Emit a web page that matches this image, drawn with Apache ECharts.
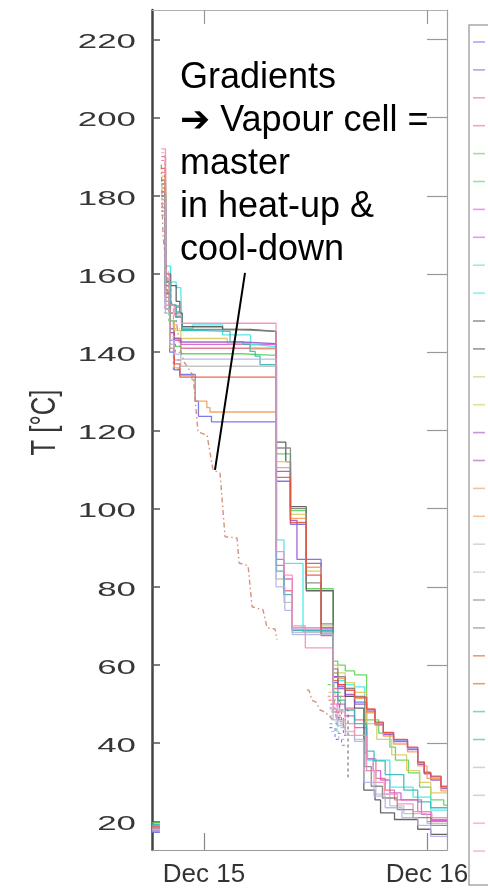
<!DOCTYPE html>
<html>
<head>
<meta charset="utf-8">
<script src="https://cdn.jsdelivr.net/npm/echarts@6.0.0/dist/echarts.min.js"></script>
<style>
html,body{margin:0;padding:0;background:#fff;}
#chart{width:488px;height:888px;}
</style>
</head>
<body>
<div id="chart"></div>
<script>
// x values: hours since Dec 15 00:00
const xTickHours = [0, 24];
const xTickLabels = ['Dec 15', 'Dec 16'];
const xMin = -5.6, xMax = 26.15;
const yTickValues = [20, 40, 60, 80, 100, 120, 140, 160, 180, 200, 220];
const yTickLabels = ['20', '40', '60', '80', '100', '120', '140', '160', '180', '200', '220'];
const yMin = 12.7, yMax = 227.5;
const yAxisName = 'T [°C]';

const seriesNames = [
  'T01', 'T01b', 'T02', 'T02b', 'T03', 'T03b', 'T04', 'T04b', 'T05', 'T05b',
  'T06', 'T06b', 'T07', 'T07b', 'T08', 'T08b', 'T09', 'Vapour cell', 'T10', 'T10b',
  'T11', 'T11b', 'T12', 'T12b', 'T13', 'T13b', 'T14', 'T14b', 'T15', 'T15b'
];
const pairColors = ['#6a6ae6', '#e66a86', '#58d058', '#d458d4', '#3fe6e6', '#505050', '#d6c85a', '#9a52c8',
  '#f09a55', '#bdbdbd', '#808080', '#e8503c', '#33b3b3', '#b0b0e6', '#f08cb4'];
const vapourColor = '#cc7f66';

// solid traces [hour, °C]
const s01 = [[-5.6,17.2],[-4.75,17.2],[-4.7,null],[-4.6,178],[-4.15,151],[-3.7,140],[-3.2,135.5],[-2.6,134.3],[-0.95,127.5],[-0.6,123.6],[0.8,122.2],[7.75,107],[9.3,96],[11.0,87],[12.6,68.5],[13.9,55.5],[14.4,54],[15.2,52],[16.2,50.5],[17.5,48.6],[18.4,45.2],[19.3,42.6],[20.4,40.8],[21.9,38.8],[23.0,35.0],[23.7,32.4],[24.4,31.4],[25.5,28.8],[26.15,28.8]];
const s02 = [[-5.6,18.5],[-4.75,18.5],[-4.7,null],[-4.6,190],[-4.15,158],[-3.7,148],[-3.2,143.5],[-2.5,141],[7.75,85.5],[8.6,79],[9.5,69],[13.9,54],[14.4,52],[15.2,49],[16.2,46],[17.5,36],[18.5,31],[19.5,28],[20.5,25.5],[23.0,22.5],[24.4,20.5],[26.15,20.5]];
const s03 = [[-5.6,19.6],[-4.75,19.6],[-4.7,null],[-4.6,183],[-4.15,155],[-3.7,146],[-3.2,141.5],[-2.5,139.6],[4.0,139.2],[7.75,114],[9.3,99.5],[11.0,79.5],[13.9,61],[14.4,60],[15.2,58.5],[16.2,57.5],[17.5,46],[18.8,42.6],[20.0,39],[20.6,35.7],[22.0,32.4],[23.2,28.8],[24.4,25.5],[25.8,24.2],[26.15,24.2]];
const s04 = [[-5.6,17.5],[-4.75,17.5],[-4.7,null],[-4.6,180],[-4.15,154],[-3.7,146],[-3.2,143],[-2.5,142],[7.75,87],[8.6,82],[9.5,69.5],[13.9,52],[14.4,50],[15.2,47],[16.2,44],[17.5,36],[18.2,33],[19.0,30.6],[20.0,27.3],[21.2,25.5],[23.4,21.8],[24.5,20.3],[26.15,20.3]];
const s05 = [[-5.6,18.8],[-4.75,18.8],[-4.7,null],[-4.6,176],[-4.15,162],[-3.6,158],[-3.0,156.5],[-2.5,155.5],[-2.35,146],[-1.2,147],[2.0,144.4],[5.0,141.9],[5.7,141.4],[7.8,92],[8.6,86],[10.65,68.5],[13.9,58],[14.4,56],[15.2,55],[16.2,54.4],[17.3,37.5],[17.6,35.7],[20.0,28.8],[22.5,26.2],[24.4,22.9],[26.15,22.9]];
const s06 = [[-5.6,18.2],[-4.75,18.2],[-4.7,null],[-4.6,181],[-4.15,160],[-3.6,157],[-3.0,153],[-2.6,150],[-2.35,146.5],[2.0,145.8],[5.0,145.3],[7.75,117],[8.8,112],[9.3,100.5],[11.0,79],[13.9,57],[14.4,55],[15.2,52],[16.2,49],[17.2,28],[18.4,25.5],[19.0,22.2],[20.5,20.5],[23.0,18],[24.4,16.7],[26.15,16.7]];
const s07 = [[-5.6,19.0],[-4.75,19.0],[-4.7,null],[-4.6,185],[-4.15,156],[-3.7,148],[-3.2,145.5],[-2.5,143.5],[2.5,142.2],[5.0,140.8],[7.75,112],[9.3,98.5],[11.0,84],[12.6,70],[13.9,60],[14.4,58],[15.2,55.5],[16.2,53],[17.5,45],[18.6,41],[20.2,37],[21.8,33],[23.2,30],[24.4,27.3],[26.15,27.3]];
const s08 = [[-5.6,17.8],[-4.75,17.8],[-4.7,null],[-4.6,177],[-4.15,153],[-3.7,145],[-3.2,143.5],[-2.5,142.6],[4.0,142.2],[7.75,109.5],[9.3,97],[10.0,87],[11.0,86],[12.6,69.5],[13.9,57],[14.4,54.5],[15.2,52.5],[16.2,50],[17.5,48.2],[18.4,44.8],[19.3,42.2],[20.4,40.4],[21.9,38.4],[23.0,34.6],[23.7,32.2],[24.4,30.6],[25.5,28.4],[26.15,28.4]];
const s09 = [[-5.6,18.5],[-4.75,18.5],[-4.7,null],[-4.6,182],[-4.15,152],[-3.7,141],[-3.2,136],[-2.6,134],[-1.3,133],[-0.95,127.5],[0.3,125.8],[0.65,124.7],[7.75,110.5],[9.3,97.5],[11.0,85],[12.6,68],[13.9,58],[14.4,56.5],[15.2,54],[16.2,51.5],[17.5,47.8],[18.4,44.6],[19.3,41.8],[20.4,39.8],[21.9,37.8],[23.0,34.2],[24.0,31],[25.5,27.8],[26.15,27.8]];
const s10 = [[-5.6,18.0],[-4.75,18.0],[-4.7,null],[-4.6,179],[-4.15,150],[-3.7,142],[-3.2,138],[-2.5,136.4],[7.75,82],[8.6,76],[9.5,68.3],[13.9,48],[14.4,46],[15.2,43],[16.2,41],[17.2,33],[18.5,27],[20.0,24],[21.5,22],[24.0,19.5],[26.15,19.5]];
const s11 = [[-5.6,18.4],[-4.75,18.4],[-4.7,null],[-4.6,184],[-4.15,157],[-3.6,152],[-3.0,149],[-2.4,145.8],[3.5,145.3],[7.75,115.5],[9.3,100],[11.0,81],[12.6,70.5],[13.9,59],[14.4,57],[15.2,54],[16.2,52],[17.3,34],[18.0,29],[19.2,26],[20.8,23],[22.5,21],[24.4,19],[26.15,19]];
const s12 = [[-5.6,18.8],[-4.75,18.8],[-4.7,null],[-4.6,187],[-4.15,155],[-3.7,143],[-3.2,137],[-2.6,133.6],[7.75,108],[9.3,96.5],[11.0,83],[12.6,67.5],[13.9,56],[14.4,55],[15.2,53.5],[16.2,51.8],[17.5,48.8],[18.4,45.4],[19.3,42.8],[20.4,41],[21.9,39],[23.0,35.2],[23.7,32.6],[24.4,31.6],[25.5,29],[26.15,29]];
const s13 = [[-5.6,19.2],[-4.75,19.2],[-4.7,null],[-4.6,180],[-4.15,158],[-3.6,152],[-3.0,149],[-2.4,145.5],[0,145.3],[2.8,142.7],[4.2,142.0],[4.95,140.2],[5.5,139],[6.03,136.8],[7.8,84],[8.6,78],[9.5,68.8],[13.9,53],[14.4,51],[15.2,48.5],[16.2,45],[17.5,38],[18.3,35.5],[19.5,32],[21.5,28],[23.0,25],[24.4,23.5],[26.15,23.5]];
const s14 = [[-5.6,17.6],[-4.75,17.6],[-4.7,null],[-4.6,178],[-4.15,151],[-3.7,143],[-3.2,139.5],[-2.5,138.2],[7.75,80],[8.7,74],[9.5,67.8],[13.9,46],[14.4,44.5],[15.2,42],[16.2,40.5],[17.2,30],[18.3,26.5],[19.5,23.5],[21.3,21],[23.0,19],[24.4,16.2],[26.15,16.2]];
const s15 = [[-5.6,18.3],[-4.75,18.3],[-4.7,null],[-4.6,192],[-4.15,160],[-3.7,152],[-3.2,149.5],[-2.45,147.4],[7.75,89],[8.6,83],[9.5,70],[10.9,64.4],[13.9,50],[14.4,48],[15.2,45],[16.2,42],[17.5,33],[18.3,30],[19.4,27],[20.8,24.5],[22.5,22.5],[24.5,21],[26.15,21]];

// dashed traces (sparse)
const d01 = [[-4.6,176],[-4.15,152],[-3.7,141],[-3.3,135.6],[-2.5,135.6],[-2.45,null],[13.5,44],[14.1,41],[14.8,39.5],[15.3,39.5]];
const d02 = [[-4.6,189],[-4.2,160],[-3.8,150],[-3.3,146],[-2.6,146],[-2.55,null],[13.3,52],[13.9,50],[14.6,47],[15.3,47]];
const d03 = [[-4.6,182],[-4.2,158],[-3.8,148],[-3.3,142],[-2.7,142],[-2.65,null],[13.3,55],[14.0,53],[14.7,50],[15.2,50]];
const d04 = [[-4.6,179],[-4.2,155],[-3.7,146],[-3.2,143],[-2.6,143],[-2.55,null],[13.6,50],[14.3,46],[15.0,44],[15.4,44]];
const d05 = [[-4.6,175],[-4.2,162],[-3.6,157],[-2.8,157],[-2.75,null],[13.5,47],[14.2,45],[14.9,45]];
const d06 = [[-4.6,180],[-4.2,158],[-3.6,152],[-2.8,149],[-2.75,null],[13.8,51],[14.6,48.5],[15.5,31.4],[15.6,31.4]];
const d07 = [[-4.6,184],[-4.2,157],[-3.7,147],[-3.0,147],[-2.95,null],[13.4,53],[14.1,51],[14.8,51]];
const d08 = [[-4.6,177],[-4.2,150],[-3.7,142],[-3.1,140],[-2.6,140],[-2.55,null],[13.5,49],[14.2,46.5],[15.0,42],[15.3,42]];
const vapourCell = [[-4.6,188],[-4.5,188],[-4.42,170],[-4.0,160],[-3.9,155],[-3.4,152],[-3.12,150],[-2.58,141],[-2.15,137.5],[-1.18,134],[-0.97,133.7],[-0.65,119.6],[0.32,118.8],[0.97,109.9],[1.72,109.1],[2.26,92.8],[3.55,92.5],[3.77,86.1],[4.74,85.4],[5.17,74.9],[6.35,74.1],[6.78,69.5],[7.64,69.2],[7.86,66.5],[9.0,null],[11.08,53.7],[11.3,53.5],[11.62,51],[12.05,50.5],[12.48,48.5],[13.02,48],[13.56,46.7],[13.88,46]];
const d10 = [[-4.6,178],[-4.2,153],[-3.7,144],[-3.0,144],[-2.95,null],[13.6,46],[14.4,44],[15.0,44]];
const d11 = [[-4.6,183],[-4.2,159],[-3.6,150],[-2.9,150],[-2.85,null],[13.7,48],[14.5,45.5],[15.2,45.5]];
const d12 = [[-4.6,186],[-4.2,156],[-3.7,145],[-3.2,138],[-2.6,138],[-2.55,null],[13.4,51],[14.0,48],[14.8,46],[15.3,46]];
const d13 = [[-4.6,180],[-4.2,157],[-3.6,148],[-2.9,148],[-2.85,null],[13.5,45],[14.3,42.5],[15.0,42.5]];
const d14 = [[-4.6,177],[-4.2,152],[-3.7,143],[-3.0,143],[-2.95,null],[13.7,43],[14.5,41],[15.1,41]];
const d15 = [[-4.6,191],[-4.2,161],[-3.8,151],[-3.3,147],[-2.7,147],[-2.65,null],[13.6,48.5],[14.3,45],[15.0,45]];

const annotText = 'Gradients\n\u2794 Vapour cell =\nmaster\nin heat-up &\ncool-down';
const annotLine = [[4.41, 160.3], [1.18, 109.9]];

const solidList = [s01,s02,s03,s04,s05,s06,s07,s08,s09,s10,s11,s12,s13,s14,s15];
const dashedList = [d01,d02,d03,d04,d05,d06,d07,d08,vapourCell,d10,d11,d12,d13,d14,d15];

const series = [];
for (let i = 0; i < 15; i++) {
  series.push({
    name: seriesNames[2*i], type: 'line', data: solidList[i], step: 'end',
    symbol: 'none', showSymbol: false, emphasis: {disabled: true},
    itemStyle: {color: pairColors[i]},
    lineStyle: {color: pairColors[i], width: 1.3, opacity: 0.88}
  });
  const isVapour = (i === 8);
  const d = {
    name: seriesNames[2*i+1], type: 'line', data: dashedList[i],
    step: isVapour ? false : 'end',
    symbol: 'none', showSymbol: false, emphasis: {disabled: true},
    itemStyle: {color: pairColors[i]},
    lineStyle: {color: isVapour ? vapourColor : pairColors[i], width: isVapour ? 1.4 : 1.1,
      opacity: 0.85, type: isVapour ? [5, 3, 1.5, 3] : [3, 3]}
  };
  if (isVapour) {
    d.markLine = {
      silent: true, symbol: ['none', 'none'], label: {show: false}, animation: false,
      lineStyle: {color: '#000', width: 2, type: 'solid', opacity: 1},
      emphasis: {disabled: true},
      data: [[{coord: annotLine[0]}, {coord: annotLine[1]}]]
    };
  }
  series.push(d);
}

const chart = echarts.init(document.getElementById('chart'), null, {renderer: 'canvas'});
const FONT = '"Liberation Sans", Arial, sans-serif';
chart.setOption({
  animation: false,
  backgroundColor: '#fff',
  grid: {left: 152, right: 41, top: 10, bottom: 38, show: false},
  legend: {
    orient: 'vertical', left: 469, top: 25,
    padding: [10, 5, 27, 4],
    borderColor: '#a8a8a8', borderWidth: 1.5,
    itemWidth: 12, itemHeight: 14, itemGap: 13.9,
    icon: 'path://M0,0H12V1.6H0Z',
    itemStyle: {opacity: 0.6},
    textStyle: {fontSize: 12, lineHeight: 14, color: '#333', fontFamily: FONT},
    selectedMode: false,
    data: seriesNames
  },
  xAxis: [{
    type: 'value', position: 'bottom', min: xMin, max: xMax,
    axisLine: {show: true, onZero: false, lineStyle: {color: '#999', width: 1.2}},
    axisTick: {show: true, inside: true, length: 17, customValues: xTickHours, lineStyle: {color: '#888', width: 1.2}},
    axisLabel: {show: true, customValues: xTickHours, margin: 12, fontSize: 26, color: '#333', fontFamily: FONT,
      formatter: v => xTickLabels[xTickHours.indexOf(v)] || ''},
    splitLine: {show: false}
  }, {
    type: 'value', position: 'top', min: xMin, max: xMax,
    axisLine: {show: true, onZero: false, lineStyle: {color: '#b0b0b0', width: 1.2}},
    axisTick: {show: true, inside: true, length: 14, customValues: xTickHours, lineStyle: {color: '#999', width: 1.2}},
    axisLabel: {show: false},
    splitLine: {show: false}
  }],
  yAxis: [{
    type: 'value', position: 'left', min: yMin, max: yMax,
    axisLine: {show: true, onZero: false, lineStyle: {color: '#444', width: 2.5}},
    axisTick: {show: true, inside: true, length: 8, customValues: yTickValues, lineStyle: {color: '#555', width: 1.5}},
    axisLabel: {show: false},
    splitLine: {show: false}
  }, {
    type: 'value', position: 'right', min: yMin, max: yMax,
    axisLine: {show: true, onZero: false, lineStyle: {color: '#a0a0a0', width: 1.2}},
    axisTick: {show: true, inside: true, length: 20, customValues: yTickValues, lineStyle: {color: '#999', width: 1.2}},
    axisLabel: {show: false},
    splitLine: {show: false}
  }],
  series: series
});

// stretched tick labels and axis name, placed through the axis scale
const graphics = [];
yTickValues.forEach((v, i) => {
  const py = chart.convertToPixel({yAxisIndex: 0}, v);
  graphics.push({
    type: 'text', x: 136, y: py + 3, scaleX: 1.66, scaleY: 1, silent: true,
    style: {text: yTickLabels[i], fontSize: 21, fontFamily: FONT, fill: '#363636', align: 'right', verticalAlign: 'middle'}
  });
});
const midY = chart.convertToPixel({yAxisIndex: 0}, 122);
graphics.push({
  type: 'text', x: 45, y: midY, rotation: Math.PI / 2, scaleX: 1.07, scaleY: 1.45, silent: true,
  style: {text: yAxisName, fontSize: 24, fontFamily: FONT, fill: '#363636', align: 'center', verticalAlign: 'middle'}
});
graphics.push({
  type: 'text', left: 180, top: 57, silent: true, z: 100,
  style: {text: annotText, fontSize: 36, lineHeight: 43, fontFamily: FONT + ', "DejaVu Sans"', fill: '#000'}
});
chart.setOption({graphic: graphics});
</script>
</body>
</html>
